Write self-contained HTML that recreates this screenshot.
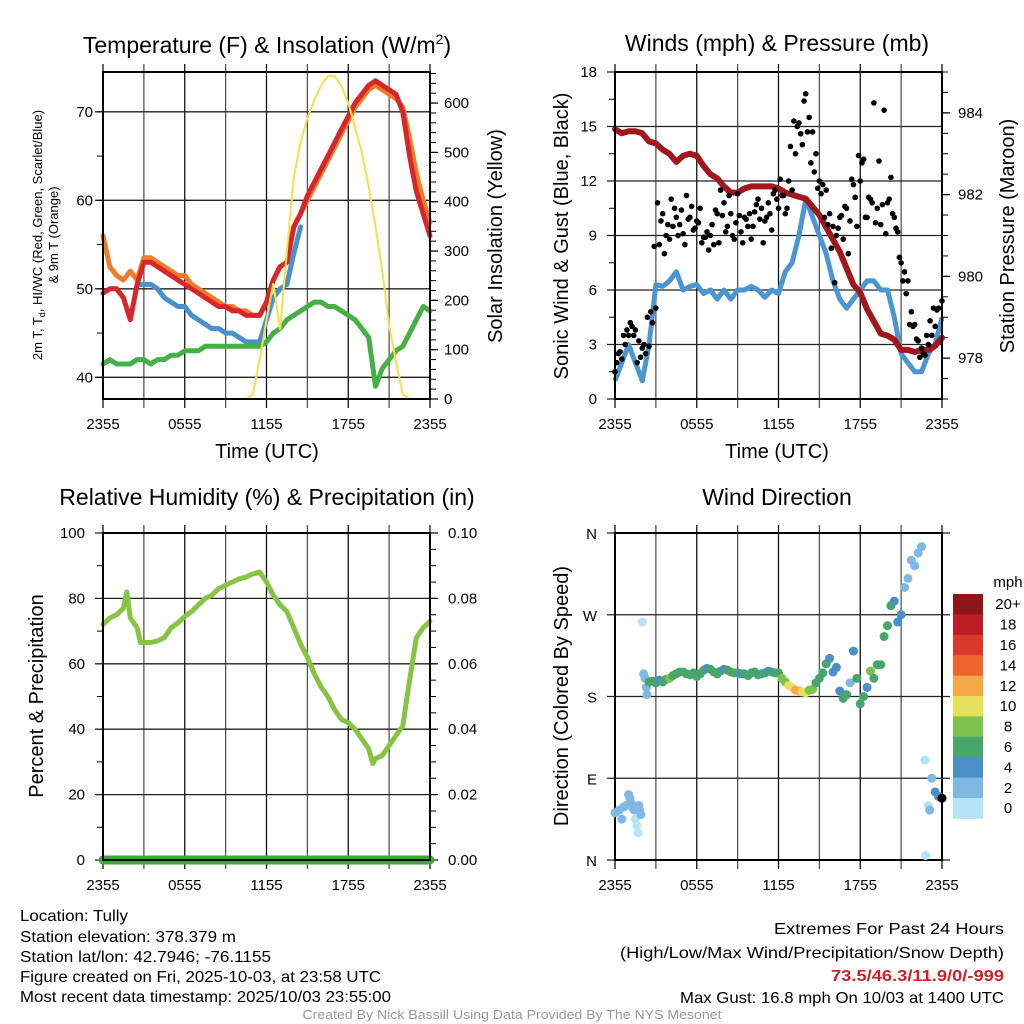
<!DOCTYPE html>
<html><head><meta charset="utf-8">
<style>
html,body{margin:0;padding:0;background:#fff;}
svg{display:block;font-family:"Liberation Sans",sans-serif;}
</style></head>
<body>
<svg id="chart" width="1024" height="1024" viewBox="0 0 1024 1024" xmlns="http://www.w3.org/2000/svg">
<rect width="1024" height="1024" fill="#fff"/>
<g id="p1"></g>
<g id="p2"></g>
<g id="p3"></g>
<g id="p4"></g>

<text x="267" y="53" font-size="23" text-anchor="middle">Temperature (F) &amp; Insolation (W/m<tspan dy="-9" font-size="14">2</tspan><tspan dy="9">)</tspan></text>
<text x="777" y="51" font-size="23" text-anchor="middle">Winds (mph) &amp; Pressure (mb)</text>
<text x="267" y="505" font-size="23" text-anchor="middle">Relative Humidity (%) &amp; Precipitation (in)</text>
<text x="777" y="505" font-size="23" text-anchor="middle">Wind Direction</text>

<text transform="translate(42,235) rotate(-90)" font-size="13" text-anchor="middle">2m T, T<tspan dy="3" font-size="9">d</tspan><tspan dy="-3">, HI/WC (Red, Green, Scarlet/Blue)</tspan></text>
<text transform="translate(58,235) rotate(-90)" font-size="13" text-anchor="middle">&amp; 9m T (Orange)</text>
<text transform="translate(502,236) rotate(-90)" font-size="20" text-anchor="middle">Solar Insolation (Yellow)</text>
<text x="267" y="458" font-size="20" text-anchor="middle">Time (UTC)</text>
<text transform="translate(568,236) rotate(-90)" font-size="20" text-anchor="middle">Sonic Wind &amp; Gust (Blue, Black)</text>
<text transform="translate(1014,236) rotate(-90)" font-size="20" text-anchor="middle">Station Pressure (Maroon)</text>
<text x="777" y="458" font-size="20" text-anchor="middle">Time (UTC)</text>
<text transform="translate(43,696) rotate(-90)" font-size="20" text-anchor="middle">Percent &amp; Precipitation</text>
<text transform="translate(568,696) rotate(-90)" font-size="20" text-anchor="middle">Direction (Colored By Speed)</text>

<g font-size="16">
<text x="20" y="921" textLength="108" lengthAdjust="spacingAndGlyphs">Location: Tully</text>
<text x="20" y="942" textLength="216" lengthAdjust="spacingAndGlyphs">Station elevation: 378.379 m</text>
<text x="20" y="962" textLength="251" lengthAdjust="spacingAndGlyphs">Station lat/lon: 42.7946; -76.1155</text>
<text x="20" y="982" textLength="361" lengthAdjust="spacingAndGlyphs">Figure created on Fri, 2025-10-03, at 23:58 UTC</text>
<text x="20" y="1002" textLength="371" lengthAdjust="spacingAndGlyphs">Most recent data timestamp: 2025/10/03 23:55:00</text>
</g>
<g font-size="16" text-anchor="end">
<text x="1004" y="934" textLength="230" lengthAdjust="spacingAndGlyphs">Extremes For Past 24 Hours</text>
<text x="1004" y="958" textLength="384" lengthAdjust="spacingAndGlyphs">(High/Low/Max Wind/Precipitation/Snow Depth)</text>
<text x="1004" y="981" fill="#cc2229" font-weight="bold" textLength="173" lengthAdjust="spacingAndGlyphs">73.5/46.3/11.9/0/-999</text>
<text x="1004" y="1003" textLength="324" lengthAdjust="spacingAndGlyphs">Max Gust: 16.8 mph On 10/03 at 1400 UTC</text>
</g>
<text x="512" y="1019" font-size="13" fill="#999" text-anchor="middle" textLength="419" lengthAdjust="spacingAndGlyphs">Created By Nick Bassill Using Data Provided By The NYS Mesonet</text>
</svg>
<script>
// ---------- data ----------
const hours = [0,0.5,1,1.5,2,2.5,3,3.5,4,4.5,5,5.5,6,6.5,7,7.5,8,8.5,9,9.5,10,10.5,11,11.5,12,12.5,13,13.5,14,14.5,15,15.5,16,16.5,17,17.5,18,18.5,19,19.5,20,20.5,21,21.5,22,22.5,23,23.5,24];
const timeTicks = ["2355","0555","1155","1755","2355"];
const tempRed = [49.5,50,50,49,46.5,50.5,53,53,52.5,52,51.5,51,50.5,50,49.5,49,48.5,48,48,47.5,47.5,47,47,47,48.5,51,52.5,53,57,58.5,60.5,62,63.5,65,66.5,68,69.5,71,72,73,73.5,73,72.5,72,70,65,61,58.5,56];
const tempOrange = [56,52.5,51.5,51,52,51,53.5,53.5,53,52.5,52,51.5,51.5,50.5,50,49.5,49,48.5,48,48,47.5,47.5,47,47,48.5,51,52.5,53,57,58.5,60,61.5,63,64.5,66,67.5,69,70.5,71.5,72.5,73,72.5,72,71.5,70.5,67,63,60,57.5];
const tempBlue = [null,null,null,null,null,50.5,50.5,50.5,50,49,48.5,48,48,47,46.5,46,45.5,45.5,45,45,44.5,44,44,44,46.5,49,50,50.5,54,57,null,null,null,null,null,null,null,null,null,null,null,null,null,null,null,null,null,null,null];
const dewGreen = [41.5,42,41.5,41.5,41.5,42,42,41.5,42,42,42.5,42.5,43,43,43,43.5,43.5,43.5,43.5,43.5,43.5,43.5,43.5,43.5,44,45,45.5,46.5,47,47.5,48,48.5,48.5,48,48,47.5,47,46.5,45.5,44.5,39,41,42,43,43.5,45,46.5,48,47.5];
const solar = [0,0,0,0,0,0,0,0,0,0,0,0,0,0,0,0,0,0,0,0,0,0,10,80,160,235,140,300,450,520,570,605,635,655,655,635,600,550,500,430,350,260,150,75,10,0,0,0,0];
const tempTicks = [40,50,60,70];
const solarTicks = [0,100,200,300,400,500,600];

const windSpeed = [1,2,3,2,1,3,6.3,6.2,6.5,7,6,6.2,6.3,5.8,6,5.5,6,5.5,6,6,6.2,6,5.6,6,5.8,7,7.5,9,11,10,9,8,6.5,5.5,5,5.5,6,6.5,6.5,6,6,4.5,2.5,2,1.5,1.5,2.5,3,4.5];
const pressure = [983.6,983.5,983.55,983.55,983.5,983.3,983.25,983.1,983.0,982.8,982.95,983.0,982.95,982.7,982.5,982.4,982.2,982.05,982.05,982.15,982.2,982.2,982.2,982.2,982.15,982.05,982.0,981.95,981.9,981.7,981.5,981.2,980.9,980.6,980.2,979.8,979.6,979.2,978.9,978.6,978.55,978.45,978.2,978.2,978.15,978.2,978.2,978.3,978.5];
const gustA = [1.5,2.5,2.2,3.0,3.5,4.0,3.8,3.2,2.8,2.5,2.9,4.2,5.0, 8.5,10.2,9.0,8.8,9.5,10.0,9.6,9.1,11.2,10.0,9.3,9.8, 10.5,8.9,9.2,9.0,8.5,10.2,11.5,10.8,9.5,10.2,8.8,11.3, 9.2,10.0,9.5,8.8,10.3,11.0,10.5,9.8,10.8,9.3,11.5,10.5, 11.2,10.2,12.0,11.5,13.5,15.2,14.0,16.8,15.5,14.7,13.5,12.0, 11.8,11.5,10.2,9.5,9.0,10.0,8.8,10.5,9.8,11.8,9.5,12.0, 13.2,10.0,11.0,16.3,10.5,9.6,15.9,10.8,12.2,10.0,9.2,7.5, 7.0,6.5,4.8,4.1,3.2,2.8,2.4,3.0,3.5,4.0,5.0,5.4];
const gustB = [2.0,2.6,3.5,3.8,4.2,3.5,2.0,2.3,3.0,4.5,4.8,8.4, 10.8,9.8,8.0,9.6,11.0,10.5,9.0,10.4,8.5,9.9,10.6,9.4, 9.7,8.6,8.9,8.2,9.6,10.4,8.6,10.1,9.2,11.2,9.0,9.7, 10.1,8.6,9.9,10.2,9.5,10.7,9.9,8.6,10.0,10.2,11.3,11.0, 12.1,11.2,10.5,13.9,15.3,15.0,14.6,16.4,14.7,13.0,12.5,11.6, 11.3,10.0,9.6,8.3,6.4,9.4,10.1,10.6,8.0,12.1,11.1,13.4, 13.0,10.0,11.1,10.8,9.7,13.1,10.7,9.1,11.0,10.2,9.4,7.8, 6.5,5.8,4.1,4.0,3.3,2.3,2.5,3.5,4.3,5.0,4.9];
const windTicks = [0,3,6,9,12,15,18];
const pressTicks = [978,980,982,984];

const rhHours = [0,0.5,1,1.5,1.75,2,2.5,2.75,3,3.5,4,4.5,5,5.5,6,6.5,7,7.5,8,8.5,9,9.5,10,10.5,11,11.5,12,12.5,13,13.5,14,14.5,15,15.5,16,16.5,17,17.5,18,18.5,19,19.5,19.8,20,20.5,21,21.5,22,22.5,23,23.5,24];
const rh = [72,74,75,77,82,74,71,66.5,66.5,66.5,67,68,71,72.5,74.5,76,78,80,81,83,84,85,86,86.5,87.5,88,85,81,78,76,71,66,62,57,53,50,46,43,42,40,37,34,29.5,31,32,35,38,41,55,68,71,73];
const precip = [0,0,0,0,0,0,0,0,0,0,0,0,0,0,0,0,0,0,0,0,0,0,0,0,0,0,0,0,0,0,0,0,0,0,0,0,0,0,0,0,0,0,0,0,0,0,0,0,0];
const rhTicks = [0,20,40,60,80,100];
const precipTicks = ["0.00","0.02","0.04","0.06","0.08","0.10"];

const dirHours = [0,0.3,0.5,0.6,0.8,1.0,1.1,1.2,1.3,1.4,1.5,1.6,1.7,1.75,1.8,1.9,2.0,2.1,2.2,2.3,2.35,
 2.5,2.75,3,3.25,3.5,3.75,4,4.25,4.5,4.75,5,5.25,5.5,5.75,6,6.25,6.5,6.75,7,7.25,7.5,7.75,8,8.25,8.5,8.75,9,9.25,9.5,9.75,10,10.25,10.5,10.75,11,11.25,11.5,11.75,12,
 12.25,12.5,12.75,13,13.25,13.5,13.75,14,14.25,14.5,14.75,15,15.25,15.5,15.75,16,16.25,16.5,16.75,17,17.25,17.5,17.75,18,18.25,18.5,18.75,19,19.25,19.5,19.75,20,20.25,20.5,20.75,21,21.25,21.5,21.75,22,22.25,22.5,22.75,22.8,23,23.1,23.25,23.5,23.75,24];
const dirDeg = [52,55,45,58,60,72,68,62,58,55,45,38,30,60,55,50,262,205,200,190,182,
 196,197,195,198,196,199,200,203,205,207,207,205,204,206,202,205,209,211,210,207,205,208,210,209,207,206,206,205,205,203,206,207,204,205,206,208,207,206,206,
 200,196,192,190,187,186,185,184,187,188,195,200,206,216,222,207,212,186,178,182,195,230,200,172,180,190,208,200,215,215,246,258,280,285,262,270,300,310,330,324,338,345,110,5,60,55,90,75,70,68];
const dirSpeed = [2,2,3,3,2,2,2,2,2,3,1,1,1,2,2,2,0,2,2,2,2,
 6,6,6,5,6,6,8,6,6,6,6,6,6,6,6,6,6,5,6,6,6,6,5,6,6,6,6,5,6,6,6,6,6,6,6,5,6,6,6,
 8,8,10,10,13,12,10,10,8,8,6,7,6,6,5,4,4,4,6,6,3,5,6,7,6,4,8,6,6,6,6,6,6,5,4,4,3,2,2,2,2,3,0,1,1,2,2,4,4];
const dirTicks = ["N","E","S","W","N"];
const speedBins = ["0","2","4","6","8","10","12","14","16","18","20+"];
const speedColors = ["#b5e3f7","#7fb9e3","#4a8fc8","#48a66d","#7dc24b","#e6e05b","#f5a845","#ef632d","#dc382a","#bd1e24","#8e1618"];

// ---------- helpers ----------
const NS="http://www.w3.org/2000/svg";
function mk(parent,tag,attrs,text){const e=document.createElementNS(NS,tag);for(const k in attrs)e.setAttribute(k,attrs[k]);if(text!==undefined)e.textContent=text;parent.appendChild(e);return e;}
function lin(d0,d1,r0,r1){return v=>r0+(v-d0)*(r1-r0)/(d1-d0);}

function frame(g,L,R,T,B,xs){
  for(let h=0;h<=24;h+=3){
    const x=xs(h);
    const ln=mk(g,'line',{x1:x,x2:x,y1:T-8,y2:B+9,stroke:(h%6===0)?'#111':'#555','stroke-width':1.3});
    
    
  }
  for(let i=0;i<timeTicks.length;i++){
    const t=mk(g,'text',{x:xs(i*6),y:B+30,'font-size':15,'text-anchor':'middle'},timeTicks[i]);
    
    
  }
}
function hgrid(g,L,R,y,color){
  const ln=mk(g,'line',{x1:L-8,x2:R+1,y1:y,y2:y,stroke:color||'#222','stroke-width':1.3});
  
  
}
function box(g,L,R,T,B){
  const r=mk(g,'rect',{x:L,y:T,width:R-L,height:B-T,fill:'none',stroke:'#000','stroke-width':2});
  
  
}
function pathFrom(xsArr,ysArr,xs,ys){
  let d='',pen=false;
  for(let i=0;i<xsArr.length;i++){
    if(ysArr[i]===null||ysArr[i]===undefined){pen=false;continue;}
    d+=(pen?'L':'M')+xs(xsArr[i]).toFixed(1)+','+ys(ysArr[i]).toFixed(1);pen=true;
  }
  return d;
}
function minorTicks(g,x,ys,from,to,step,dir){
  for(let v=from;v<=to+1e-9;v+=step){
    mk(g,'line',{x1:x,x2:x+dir*6,y1:ys(v),y2:ys(v),stroke:'#000','stroke-width':1});
  }
}

// ---------- Panel 1 ----------
(function(){
  const g=document.getElementById('p1');
  const L=103,R=430,T=72,B=399;
  const xs=lin(0,24,L,R), ys=lin(37.55,74.5,B,T), ysS=lin(0,663,B,T);
  frame(g,L,R,T,B,xs);
  tempTicks.forEach(v=>{hgrid(g,L,R,ys(v));
    const t=mk(g,'text',{x:L-10,y:ys(v)+5,'font-size':15,'text-anchor':'end'},v);
    
    });
  minorTicks(g,L,ys,40,74,5,-1);
  solarTicks.forEach(v=>{mk(g,'line',{x1:R,x2:R+8,y1:ysS(v),y2:ysS(v),stroke:'#000','stroke-width':1.2});
    const t=mk(g,'text',{x:R+14,y:ysS(v)+5,'font-size':15},v);
    
    });
  minorTicks(g,R,ysS,0,660,20,1);
  const series=[[tempOrange,'#f07c2a','temp-9m-line'],[tempBlue,'#4a90cc','windchill-line'],[dewGreen,'#46b045','dewpoint-line'],[tempRed,'#d7262b','temp-2m-line']];
  series.forEach(s=>{const p=mk(g,'path',{d:pathFrom(hours,s[0],xs,ys),fill:'none',stroke:s[1],'stroke-width':5,'stroke-linejoin':'round','stroke-linecap':'round'});
    
    });
  const sp=mk(g,'path',{d:pathFrom(hours,solar,xs,ysS),fill:'none',stroke:'#f7df4a','stroke-width':2});
  
  
  box(g,L,R,T,B);
})();

// ---------- Panel 2 ----------
(function(){
  const g=document.getElementById('p2');
  const L=615,R=942,T=72,B=399;
  const xs=lin(0,24,L,R), ys=lin(0,18,B,T), ysP=lin(977,985,B,T);
  frame(g,L,R,T,B,xs);
  windTicks.forEach(v=>{hgrid(g,L,R,ys(v));
    const t=mk(g,'text',{x:L-18,y:ys(v)+5,'font-size':15,'text-anchor':'end'},v);
    
    });
  minorTicks(g,L,ys,1.5,16.5,3,-1);
  pressTicks.forEach(v=>{mk(g,'line',{x1:R,x2:R+8,y1:ysP(v),y2:ysP(v),stroke:'#000','stroke-width':1.2});
    const t=mk(g,'text',{x:R+16,y:ysP(v)+5,'font-size':15},v);
    
    });
  minorTicks(g,R,ysP,977,985,0.5,1);
  const wp=mk(g,'path',{d:pathFrom(hours,windSpeed,xs,ys),fill:'none',stroke:'#4a95d2','stroke-width':5,'stroke-linejoin':'round'});
  
  
  const pp=mk(g,'path',{d:pathFrom(hours,pressure,xs,ysP),fill:'none',stroke:'#a0171c','stroke-width':6,'stroke-linejoin':'round','stroke-linecap':'round'});
  
  
  gustA.forEach((v,i)=>{const c=mk(g,'circle',{cx:xs(i*0.25),cy:ys(v),r:2.8,fill:'#000'});
    
    });
  gustB.forEach((v,i)=>{const c=mk(g,'circle',{cx:xs(i*0.25+0.125),cy:ys(v),r:2.8,fill:'#000'});
    
    });
  box(g,L,R,T,B);
})();

// ---------- Panel 3 ----------
(function(){
  const g=document.getElementById('p3');
  const L=103,R=430,T=533,B=860;
  const xs=lin(0,24,L,R), ys=lin(0,100,B,T), ysP=lin(0,0.1,B,T);
  frame(g,L,R,T,B,xs);
  rhTicks.forEach(v=>{hgrid(g,L,R,ys(v));
    const t=mk(g,'text',{x:L-18,y:ys(v)+5,'font-size':15,'text-anchor':'end'},v);
    
    });
  minorTicks(g,L,ys,10,90,20,-1);
  precipTicks.forEach((s,i)=>{const y=ys(i*20);mk(g,'line',{x1:R,x2:R+8,y1:y,y2:y,stroke:'#000','stroke-width':1.2});
    const t=mk(g,'text',{x:R+18,y:y+5,'font-size':15},s);
    
    });
  minorTicks(g,R,ys,5,95,5,1);
  const rp=mk(g,'path',{d:pathFrom(rhHours,rh,xs,ys),fill:'none',stroke:'#86c442','stroke-width':5,'stroke-linejoin':'round','stroke-linecap':'round'});
  
  
  const pr=mk(g,'path',{d:pathFrom(hours,precip,xs,ysP),fill:'none',stroke:'#3aa83a','stroke-width':9,'stroke-linecap':'round'});
  
  
  mk(g,'line',{x1:L,x2:R,y1:B,y2:B,stroke:'#000','stroke-width':2});
  box(g,L,R,T,B);
})();

// ---------- Panel 4 ----------
(function(){
  const g=document.getElementById('p4');
  const L=615,R=942,T=533,B=860;
  const xs=lin(0,24,L,R), ys=lin(0,360,B,T);
  frame(g,L,R,T,B,xs);
  dirTicks.forEach((s,i)=>{const y=ys(i*90);
    const ln=mk(g,'line',{x1:L-8,x2:R+8,y1:y,y2:y,stroke:'#222','stroke-width':1.3});
    
    
    const t=mk(g,'text',{x:L-18,y:y+6,'font-size':15,'text-anchor':'end'},s);
    
    });
  box(g,L,R,T,B);
  dirDeg.forEach((d,i)=>{const bin=Math.min(10,Math.floor(dirSpeed[i]/2));
    const c=mk(g,'circle',{cx:xs(dirHours[i]),cy:ys(d),r:4.5,fill:speedColors[bin]});
    
    });
  const cb=mk(g,'g',{});
  
  
  const top=594,h=20.4;
  for(let k=0;k<speedBins.length;k++){
    const idx=speedBins.length-1-k;
    const y=top+k*h;
    const r=mk(cb,'rect',{x:953,y:y,width:30,height:h+0.5,fill:speedColors[idx]});
    
    
    const t=mk(cb,'text',{x:1008,y:y+h/2+5,'font-size':15,'text-anchor':'middle'},speedBins[idx]);
    
    
  }
  const u=mk(cb,'text',{x:1008,y:587,'font-size':15,'text-anchor':'middle'},'mph');
  
  
})();
</script>
</body></html>
